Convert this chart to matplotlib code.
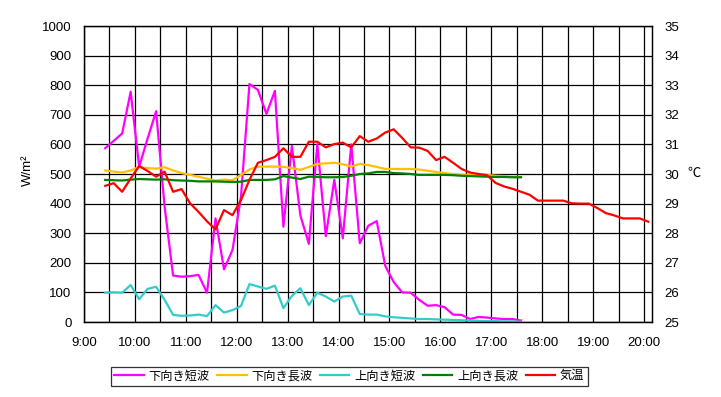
import matplotlib
matplotlib.use("Agg")
import matplotlib.pyplot as plt
from matplotlib.ticker import MultipleLocator

plt.rcParams['font.family'] = ['Liberation Sans', 'Noto Sans CJK JP', 'DejaVu Sans']

# --- données (pas de 10 min) ---
times = ["9:25", "9:35", "9:45", "9:55", "10:05", "10:15", "10:25", "10:35", "10:45", "10:55",
         "11:05", "11:15", "11:25", "11:35", "11:45", "11:55", "12:05", "12:15", "12:25", "12:35",
         "12:45", "12:55", "13:05", "13:15", "13:25", "13:35", "13:45", "13:55", "14:05", "14:15",
         "14:25", "14:35", "14:45", "14:55", "15:05", "15:15", "15:25", "15:35", "15:45", "15:55",
         "16:05", "16:15", "16:25", "16:35", "16:45", "16:55", "17:05", "17:15", "17:25", "17:35",
         "17:45", "17:55", "18:05", "18:15", "18:25", "18:35", "18:45", "18:55", "19:05", "19:15",
         "19:25", "19:35", "19:45", "19:55", "20:05"]

down_sw = [587, 612, 637, 778, 525, 620, 712, 390, 157, 153,
           155, 159, 99, 350, 178, 243, 423, 804, 784, 703,
           781, 322, 595, 360, 264, 600, 290, 480, 283, 600,
           266, 325, 341, 190, 135, 100, 99, 75, 55, 57,
           50, 25, 24, 10, 17, 15, 12, 10, 10, 5]
down_lw = [512, 508, 505, 512, 524, 520, 518, 523, 512, 503,
           497, 491, 484, 478, 481, 479, 497, 515, 525, 525,
           525, 524, 520, 514, 524, 534, 536, 538, 533, 525,
           534, 530, 524, 517, 517, 517, 517, 515, 511, 507,
           503, 500, 497, 497, 497, 497, 494, 493, 491, 490]
up_sw = [99, 100, 99, 125, 77, 112, 119, 75, 24, 21,
         22, 25, 20, 57, 32, 40, 54, 128, 120, 112,
         123, 47, 88, 114, 57, 99, 86, 69, 86, 89,
         27, 25, 25, 19, 16, 14, 12, 10, 10, 9,
         8, 7, 6, 5, 4, 3, 3, 2, 2, 1]
up_lw = [480, 479, 478, 481, 483, 482, 481, 482, 479, 478,
         477, 475, 475, 475, 474, 473, 474, 480, 480, 480,
         482, 493, 488, 483, 491, 490, 489, 489, 490, 494,
         500, 502, 507, 507, 503, 502, 500, 497, 497, 497,
         497, 496, 494, 493, 492, 491, 490, 490, 489, 489]
temp = [29.60, 29.69, 29.40, 29.85, 30.27, 30.10, 29.91, 30.08, 29.40, 29.49,
        29.01, 28.72, 28.40, 28.13, 28.78, 28.61, 29.12, 29.80, 30.38, 30.47,
        30.58, 30.87, 30.58, 30.58, 31.09, 31.09, 30.90, 31.01, 31.06, 30.90,
        31.28, 31.09, 31.20, 31.40, 31.51, 31.22, 30.90, 30.89, 30.78, 30.47,
        30.58, 30.38, 30.17, 30.05, 30.00, 29.96, 29.70, 29.58, 29.50, 29.40,
        29.30, 29.10, 29.10, 29.10, 29.10, 29.01, 29.00, 29.00, 28.85, 28.68,
        28.60, 28.50, 28.50, 28.50, 28.39]

hour_labels = ["9:00", "10:00", "11:00", "12:00", "13:00", "14:00",
               "15:00", "16:00", "17:00", "18:00", "19:00", "20:00"]

def to_hours(s):
    h, m = s.split(":")
    return int(h) + int(m) / 60

t = [to_hours(s) for s in times]
t_rad = t[:len(down_sw)]
hour_pos = [to_hours(s) for s in hour_labels]

# --- figure ---
fig = plt.figure(figsize=(7.21, 3.97), dpi=100)
ax = fig.add_axes([0.1165, 0.1889, 0.7878, 0.7456])
ax2 = ax.twinx()

lw = 1.6
l1, = ax.plot(t_rad, down_sw, color='#FF00FF', lw=lw, label='下向き短波')
l2, = ax.plot(t_rad, down_lw, color='#FFC000', lw=lw, label='下向き長波')
l3, = ax.plot(t_rad, up_sw, color='#33CCCC', lw=lw, label='上向き短波')
l4, = ax.plot(t_rad, up_lw, color='#008000', lw=lw, label='上向き長波')
l5, = ax2.plot(t, temp, color='#FF0000', lw=lw, label='気温')

ax.set_xlim(9, 20.157)
ax.set_ylim(0, 1000)
ax2.set_ylim(25, 35)
ax.set_xticks(hour_pos)
ax.set_xticklabels(hour_labels)
ax.xaxis.set_minor_locator(MultipleLocator(0.5))
ax.yaxis.set_major_locator(MultipleLocator(100))
ax2.yaxis.set_major_locator(MultipleLocator(1))

ax.grid(True, which='both', axis='x', color='black', lw=0.9)
ax.grid(True, which='major', axis='y', color='black', lw=0.9)
ax.set_axisbelow(True)

ax.tick_params(axis='x', which='both', length=0, pad=11, labelsize=9.5)
ax.tick_params(axis='y', length=0, pad=9, labelsize=9.5)
ax2.tick_params(axis='y', length=0, pad=9, labelsize=9.5)

for a in (ax, ax2):
    for sp in a.spines.values():
        sp.set_color('black')
        sp.set_linewidth(0.9)

fig.text(0.039, 0.57, 'W/m²', rotation=90, ha='center', va='center', fontsize=9.5)
fig.text(0.962, 0.563, '℃', ha='center', va='center', fontsize=9.5)

leg = fig.legend(handles=[l1, l2, l3, l4, l5], loc='center', ncol=5,
                 bbox_to_anchor=(0.4847, 0.052), bbox_transform=fig.transFigure,
                 fontsize=8.8, frameon=True, fancybox=False, edgecolor='black',
                 handlelength=2.4, handletextpad=0.4, columnspacing=0.6,
                 borderpad=0.3, borderaxespad=0)
leg.get_frame().set_linewidth(0.9)

fig.savefig('out.png', dpi=100)
